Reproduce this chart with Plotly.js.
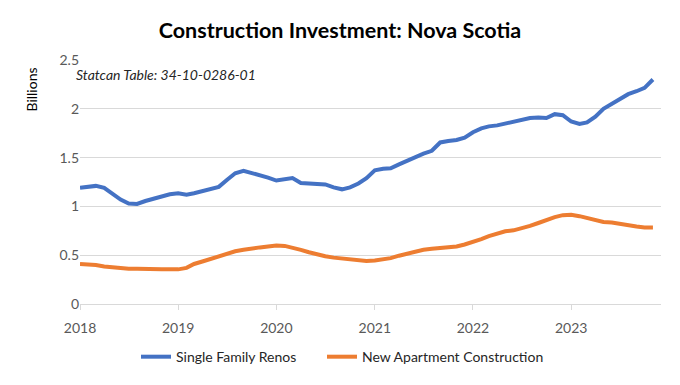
<!DOCTYPE html>
<html>
<head>
<meta charset="utf-8">
<script src="https://cdn.plot.ly/plotly-3.0.1.min.js"></script>
<style>html,body{margin:0;padding:0;background:#fff;}#chart{width:680px;height:385px;}</style>
</head>
<body>
<div id="chart"></div>
<script>
const months = [
 "2018-01","2018-02","2018-03","2018-04","2018-05","2018-06","2018-07","2018-08","2018-09","2018-10","2018-11","2018-12",
 "2019-01","2019-02","2019-03","2019-04","2019-05","2019-06","2019-07","2019-08","2019-09","2019-10","2019-11","2019-12",
 "2020-01","2020-02","2020-03","2020-04","2020-05","2020-06","2020-07","2020-08","2020-09","2020-10","2020-11","2020-12",
 "2021-01","2021-02","2021-03","2021-04","2021-05","2021-06","2021-07","2021-08","2021-09","2021-10","2021-11","2021-12",
 "2022-01","2022-02","2022-03","2022-04","2022-05","2022-06","2022-07","2022-08","2022-09","2022-10","2022-11","2022-12",
 "2023-01","2023-02","2023-03","2023-04","2023-05","2023-06","2023-07","2023-08","2023-09","2023-10","2023-11"
];
const singleFamilyRenos = [
 1.19,1.20,1.21,1.19,1.13,1.07,1.03,1.025,1.055,1.075,1.10,1.125,
 1.135,1.12,1.135,1.155,1.18,1.20,1.27,1.34,1.365,1.345,1.325,1.295,
 1.265,1.28,1.29,1.24,1.235,1.24,1.225,1.195,1.175,1.195,1.235,1.29,
 1.37,1.385,1.39,1.43,1.47,1.505,1.54,1.57,1.655,1.67,1.68,1.705,
 1.76,1.80,1.82,1.83,1.85,1.865,1.89,1.905,1.91,1.905,1.945,1.935,
 1.87,1.845,1.86,1.92,2.00,2.05,2.10,2.15,2.18,2.215,2.30
];
const newApartmentConstruction = [
 0.41,0.41,0.40,0.385,0.375,0.365,0.36,0.36,0.355,0.355,0.355,0.355,
 0.355,0.37,0.41,0.435,0.46,0.485,0.52,0.54,0.555,0.57,0.58,0.59,
 0.60,0.595,0.58,0.555,0.53,0.505,0.49,0.475,0.465,0.455,0.45,0.44,
 0.445,0.455,0.47,0.495,0.515,0.53,0.555,0.565,0.57,0.575,0.59,0.61,
 0.635,0.665,0.695,0.725,0.745,0.755,0.775,0.80,0.83,0.86,0.89,0.91,
 0.915,0.90,0.88,0.855,0.84,0.835,0.82,0.805,0.795,0.785,0.785
];
const seriesNames = ["Single Family Renos","New Apartment Construction"];
const yTicks = [0,0.5,1,1.5,2,2.5];
const yTickLabels = ["0","0.5","1","1.5","2","2.5"];

const FONT = "Lato, 'Open Sans', sans-serif";
const traces = [
 {x: months, y: singleFamilyRenos, name: seriesNames[0], type: "scatter", mode: "lines", legend: "legend",
  line: {color: "#4472C4", width: 4, shape: "linear"}},
 {x: months, y: newApartmentConstruction, name: seriesNames[1], type: "scatter", mode: "lines", legend: "legend2",
  line: {color: "#ED7D31", width: 4, shape: "linear"}}
];
const legendBase = {orientation: "h", xanchor: "left", y: -0.152, yanchor: "top",
   font: {family: FONT, size: 14, color: "#262626"}, itemwidth: 30, bgcolor: "rgba(0,0,0,0)"};
const layout = {
 width: 680, height: 385,
 margin: {l: 80, r: 19, t: 60, b: 77},
 paper_bgcolor: "#fff", plot_bgcolor: "#fff",
 font: {family: FONT, color: "#595959", size: 13},
 title: {text: "<b>Construction Investment: Nova Scotia</b>", font: {family: FONT, size: 21.5, color: "#000"},
   x: 0.5, xanchor: "center", xref: "container", y: 1 - 30/385, yanchor: "middle", yref: "container"},
 showlegend: true,
 legend: Object.assign({}, legendBase, {x: (136-80)/581}),
 legend2: Object.assign({}, legendBase, {x: (322-80)/581}),
 xaxis: {type: "date", range: ["2018-01-01","2023-12-01"], tick0: "2018-01-01", dtick: "M12", tickformat: "%Y",
   showgrid: false, zeroline: false, showline: true, linecolor: "#d9d9d9", linewidth: 1,
   ticks: "outside", ticklen: 5, tickcolor: "#d9d9d9", tickfont: {size: 14, color: "#595959"},
   ticklabelstandoff: 6},
 yaxis: {range: [0, 2.5], tickvals: yTicks, ticktext: yTickLabels, showgrid: true, gridcolor: "#d9d9d9",
   gridwidth: 1, zeroline: false, showline: false, ticks: "", tickfont: {size: 14, color: "#595959"}},
 annotations: [
  {text: "Billions", xref: "paper", yref: "paper", x: (32-80)/581, y: 1 - (90-60)/248, textangle: -90, showarrow: false,
   font: {family: FONT, size: 14, color: "#000"}, xanchor: "center", yanchor: "middle"},
  {text: "<i>Statcan Table: 34-10-0286-01</i>", xref: "paper", yref: "paper", x: -0.01, y: 1 - (75-60)/248,
   showarrow: false, xanchor: "left", yanchor: "middle", font: {family: FONT, size: 14, color: "#262626"}}
 ]
};
Plotly.newPlot("chart", traces, layout, {displayModeBar: false, staticPlot: true});
</script>
</body>
</html>
